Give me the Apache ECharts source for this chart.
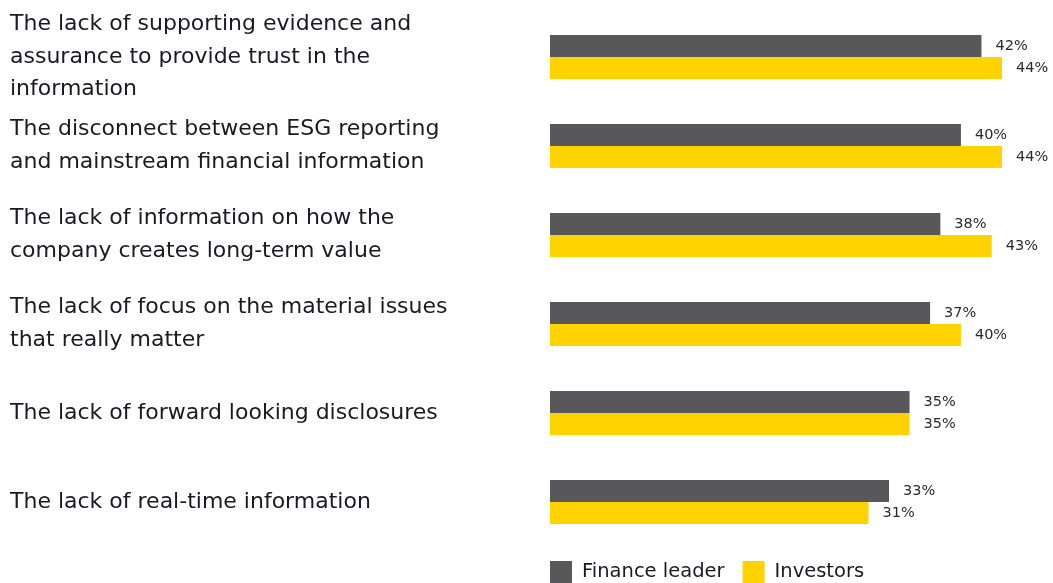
<!DOCTYPE html>
<html>
<head>
<meta charset="utf-8">
<style>
  html, body { margin: 0; padding: 0; background: #fff; }
  #chart { width: 1053px; height: 583px; }
</style>
<script src="https://cdn.jsdelivr.net/npm/echarts@6/dist/echarts.min.js"></script>
</head>
<body>
<div id="chart"></div>
<script>
// Survey items, top to bottom
const categories = [
  'The lack of supporting evidence and\nassurance to provide trust in the\ninformation',
  'The disconnect between ESG reporting\nand mainstream financial information',
  'The lack of information on how the\ncompany creates long-term value',
  'The lack of focus on the material issues\nthat really matter',
  'The lack of forward looking disclosures',
  'The lack of real-time information'
];
// Share of respondents (%)
const financeLeader = [42, 40, 38, 37, 35, 33];
const investors = [44, 44, 43, 40, 35, 31];

const FONT = '"DejaVu Sans", sans-serif';
const TEXT = '#1a1a24';

const chart = echarts.init(document.getElementById('chart'));

function barLabel() {
  return {
    show: true,
    position: 'right',
    distance: 14,
    formatter: '{c}%',
    fontFamily: FONT,
    fontSize: 14.5,
    color: '#2a2a2a'
  };
}

chart.setOption({
  animation: false,
  grid: { left: 550, right: 51, top: 12.5, bottom: 36.5 },
  legend: {
    left: 550,
    top: 561,
    padding: 0,
    itemWidth: 22,
    itemHeight: 22,
    itemGap: 18,
    icon: 'rect',
    textStyle: { fontFamily: FONT, fontSize: 19.5, color: TEXT, padding: [0, 0, 0, 5] },
    data: ['Finance leader', 'Investors']
  },
  xAxis: {
    type: 'value',
    min: 0,
    max: 44,
    show: false
  },
  yAxis: {
    type: 'category',
    inverse: true,
    data: categories,
    axisLine: { show: false },
    axisTick: { show: false },
    axisLabel: {
      align: 'left',
      margin: 540,
      fontFamily: FONT,
      fontSize: 22,
      lineHeight: 32.5,
      color: TEXT
    }
  },
  series: [
    {
      name: 'Finance leader',
      type: 'bar',
      data: financeLeader,
      barWidth: 22,
      barGap: '0%',
      itemStyle: { color: '#58585a' },
      label: barLabel()
    },
    {
      name: 'Investors',
      type: 'bar',
      data: investors,
      barWidth: 22,
      itemStyle: { color: '#ffd200' },
      label: barLabel()
    }
  ]
});
</script>
</body>
</html>
